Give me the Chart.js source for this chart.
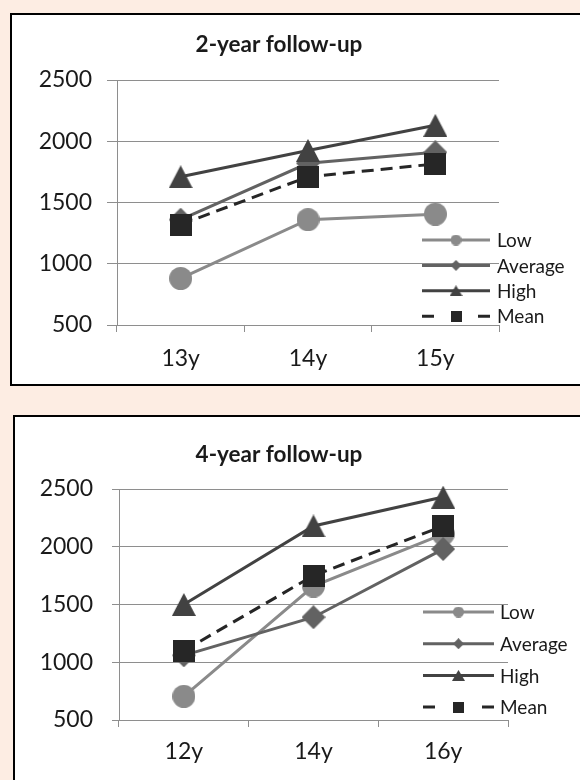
<!DOCTYPE html>
<html>
<head>
<meta charset="utf-8">
<script src="https://cdn.jsdelivr.net/npm/chart.js@4/dist/chart.umd.min.js"></script>
<style>
    html, body { margin: 0; padding: 0; background: #fdede3; }
    body { width: 580px; height: 780px; position: relative; overflow: hidden; }
    .box { position: absolute; background: #fff; border: 2px solid #000; }
    #box2y { left: 10px; top: 13px; width: 600px; height: 369px; }
    #box4y { left: 13px; top: 415px; width: 600px; height: 400px; }
    canvas { position: absolute; left: 0; }
    #chart2y { top: 0; }
    #chart4y { top: 400px; }
</style>
</head>
<body>
<div class="box" id="box2y"></div>
<div class="box" id="box4y"></div>
<canvas id="chart2y" width="580" height="386"></canvas>
<canvas id="chart4y" width="580" height="380"></canvas>
<script>
// values
const seriesNames = ["Low", "Average", "High", "Mean"];
const yTicks = [500, 1000, 1500, 2000, 2500];

const ages2y = ["13y", "14y", "15y"];
const low2y = [880, 1360, 1405];
const average2y = [1360, 1820, 1910];
const high2y = [1710, 1925, 2130];
const mean2y = [1320, 1710, 1815];

const ages4y = ["12y", "14y", "16y"];
const low4y = [705, 1660, 2110];
const average4y = [1060, 1390, 1980];
const high4y = [1500, 2180, 2430];
const mean4y = [1100, 1750, 2180];

const gridColor = "#8e8e8e";
const textColor = "#1a1a1a";
const fontFamily = "Lato, 'Open Sans', sans-serif";

// Excel-like markers, centred on their bounding box
function markerImage(shape, w, h, color) {
    const c = document.createElement("canvas");
    c.width = w;
    c.height = h;
    const g = c.getContext("2d");
    g.fillStyle = color;
    g.beginPath();
    if (shape === "circle") {
        g.arc(w / 2, h / 2, w / 2, 0, Math.PI * 2);
    } else if (shape === "diamond") {
        g.moveTo(w / 2, 0); g.lineTo(w, h / 2); g.lineTo(w / 2, h); g.lineTo(0, h / 2);
        g.closePath();
    } else if (shape === "triangle") {
        g.moveTo(w / 2, 0); g.lineTo(w, h); g.lineTo(0, h);
        g.closePath();
    } else {
        g.rect(0, 0, w, h);
    }
    g.fill();
    return c;
}

const seriesStyles = [
    { color: "#8a8a8a", shape: "circle", size: [23, 23], small: [11, 11], dash: [], order: 3 },
    { color: "#626262", shape: "diamond", size: [24, 24], small: [11, 11], dash: [], order: 2 },
    { color: "#424242", shape: "triangle", size: [24, 23], small: [13, 11], dash: [], order: 1 },
    { color: "#262626", shape: "rect", size: [22, 22], small: [11, 11], dash: [12, 7], order: 0 }
];

const boxTitle = {
    id: "boxTitle",
    afterDraw(chart, args, opts) {
        const ctx = chart.ctx;
        ctx.save();
        ctx.font = "bold 22.5px " + fontFamily;
        ctx.fillStyle = textColor;
        ctx.textAlign = "center";
        ctx.textBaseline = "middle";
        ctx.fillText(opts.text, opts.x, opts.y);
        ctx.restore();
    }
};

const lineLegend = {
    id: "lineLegend",
    afterDraw(chart, args, opts) {
        const ctx = chart.ctx;
        ctx.save();
        chart.data.datasets.forEach((ds, i) => {
            const st = seriesStyles[i];
            const y = opts.top + i * opts.rowGap;
            ctx.strokeStyle = ds.borderColor;
            ctx.lineWidth = ds.borderWidth;
            ctx.setLineDash(st.dash.length ? [12, opts.lineLength - 24] : []);
            ctx.beginPath();
            ctx.moveTo(opts.left, y);
            ctx.lineTo(opts.left + opts.lineLength, y);
            ctx.stroke();
            ctx.setLineDash([]);
            const img = markerImage(st.shape, st.small[0], st.small[1], st.color);
            ctx.drawImage(img, opts.left + opts.lineLength / 2 - img.width / 2, y - img.height / 2);
            ctx.font = "19px " + fontFamily;
            ctx.fillStyle = textColor;
            ctx.textAlign = "left";
            ctx.textBaseline = "middle";
            ctx.fillText(ds.label, opts.textX, y + 1);
        });
        ctx.restore();
    }
};

function drawFollowUp(canvasId, title, ages, values, geo) {
    const datasets = values.map((data, i) => {
        const st = seriesStyles[i];
        return {
            label: seriesNames[i],
            data: data,
            borderColor: st.color,
            backgroundColor: st.color,
            borderWidth: 3,
            borderDash: st.dash,
            pointStyle: markerImage(st.shape, st.size[0], st.size[1], st.color),
            pointRadius: 12,
            tension: 0,
            clip: false,
            order: st.order
        };
    });

    new Chart(document.getElementById(canvasId), {
        type: "line",
        data: { labels: ages, datasets: datasets },
        options: {
            responsive: false,
            animation: false,
            events: [],
            layout: { padding: { left: 0, right: geo.padRight, top: geo.padTop, bottom: 0 } },
            scales: {
                x: {
                    offset: true,
                    grid: { offset: true, drawOnChartArea: false, drawTicks: true, tickLength: 7, color: gridColor },
                    border: { color: gridColor },
                    ticks: { font: { family: fontFamily, size: 23 }, color: textColor, padding: geo.xPad, maxRotation: 0 },
                    afterFit: scale => { scale.height = geo.xHeight; }
                },
                y: {
                    min: 500,
                    max: 2500,
                    afterBuildTicks: scale => { scale.ticks = yTicks.map(v => ({ value: v })); },
                    grid: { color: gridColor, tickLength: geo.yTick },
                    border: { color: gridColor },
                    ticks: { font: { family: fontFamily, size: 23 }, color: textColor, padding: geo.yPad, callback: v => String(v) },
                    afterFit: scale => { scale.width = geo.yWidth; }
                }
            },
            plugins: {
                legend: { display: false },
                tooltip: { enabled: false },
                boxTitle: { text: title, x: geo.titleX, y: geo.titleY },
                lineLegend: geo.legend
            }
        },
        plugins: [boxTitle, lineLegend]
    });
}

drawFollowUp("chart2y", "2-year follow-up", ages2y, [low2y, average2y, high2y, mean2y], {
    padRight: 81, padTop: 80, xHeight: 61, xPad: 13, yWidth: 117, yTick: 10, yPad: 15,
    titleX: 279, titleY: 45,
    legend: { left: 422, lineLength: 68, textX: 497, top: 240, rowGap: 25.4 }
});

drawFollowUp("chart4y", "4-year follow-up", ages4y, [low4y, average4y, high4y, mean4y], {
    padRight: 72, padTop: 89, xHeight: 60, xPad: 11, yWidth: 119, yTick: 7, yPad: 19,
    titleX: 279, titleY: 55,
    legend: { left: 423, lineLength: 71, textX: 500, top: 212, rowGap: 31.7 }
});
</script>
</body>
</html>
